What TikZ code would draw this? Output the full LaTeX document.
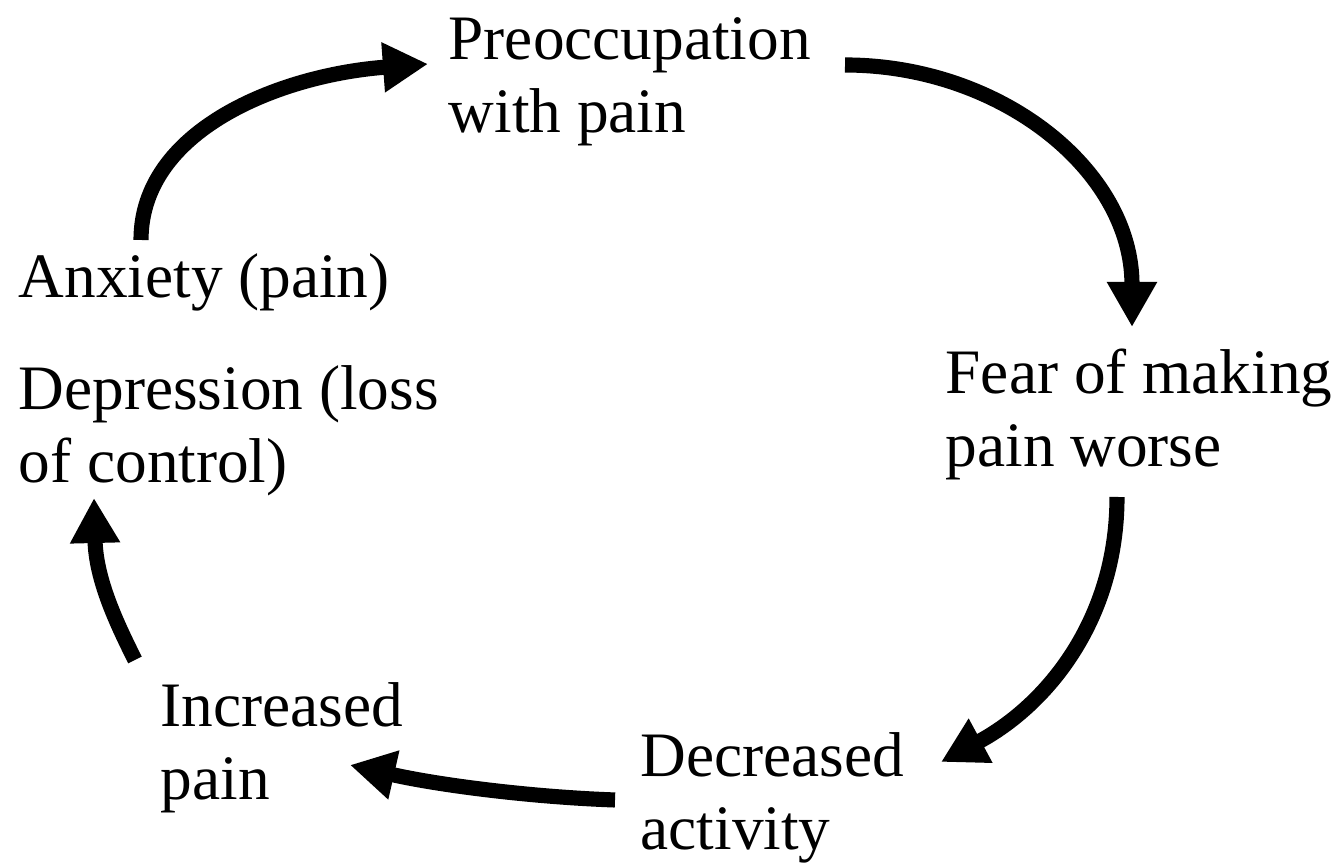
\documentclass[tikz,border=0pt]{standalone}
\usepackage{fontspec}
\setmainfont{Liberation Serif}
\usetikzlibrary{positioning,arrows.meta,calc}

\tikzset{
  lbl/.style={anchor=base west, inner sep=0pt, align=left, black, font=\fontsize{18}{20.8}\selectfont},
  cyc/.style={-{Triangle[length=12.8pt, width=13.4pt]}, line width=4.3pt, black},
}

\begin{document}
\begin{tikzpicture}[x=0.01cm, y=-0.01cm]
        \useasboundingbox (0,0) rectangle (1342,865);
        % the six stages (base = last line)
        \node[lbl] (pre) at (448,133) {Preoccupation\\with pain};
        \node[lbl] (fear) at (945,467) {Fear of making\\pain worse};
        \node[lbl] (decr) at (640,850) {Decreased\\activity};
        \node[lbl] (incr) at (160,800) {Increased\\pain};
        \node[lbl] (depr) at (18,483) {Depression (loss\\of control)};
        \node[lbl] (anx) at (18,298) {Anxiety (pain)};
        % the cycle
       \draw[cyc] ($(anx.base west)+(123,-58)$) .. controls +(0,-110) and +(-148,11) .. ($(pre.base west)+(-20,-69)$);
       \draw[cyc] ($(pre.base west)+(397,-68)$) .. controls +(155,0) and +(0,-157) .. ($(fear.base west)+(187,-140)$);
       \draw[cyc] ($(fear.base west)+(172,30)$) .. controls +(0,123) and +(106,-57) .. ($(decr.base west)+(301,-88)$);
       \draw[cyc] ($(decr.base west)+(-25,-50)$) .. controls +(-85,-3) and +(88,20) .. ($(incr.base west)+(190,-35)$);
       \draw[cyc] ($(incr.base west)+(-25,-140)$) .. controls +(-18,-36) and +(2,82) .. ($(depr.base west)+(76,15)$);
    \end{tikzpicture}
\end{document}
